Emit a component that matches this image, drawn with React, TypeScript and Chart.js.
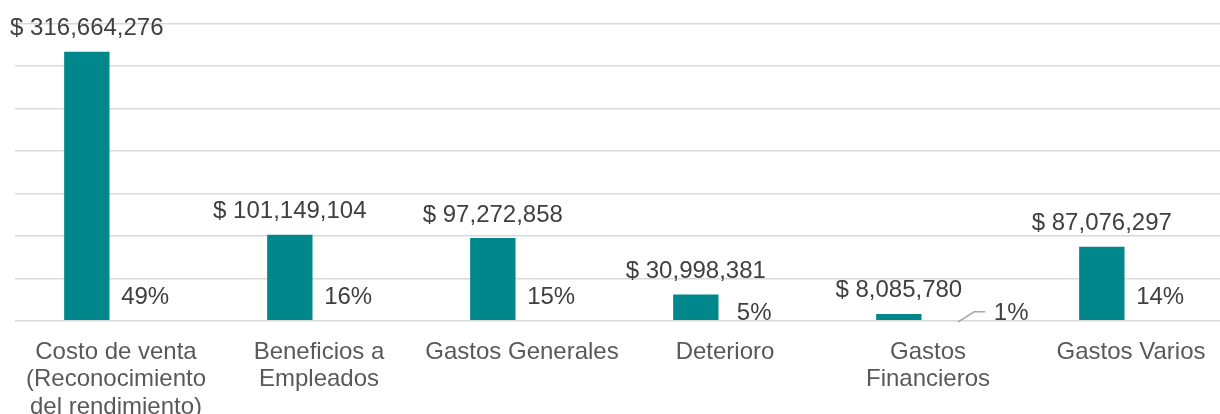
import React, { useEffect, useRef } from "react";
import { Chart, registerables } from "chart.js";

Chart.register(...registerables);

const categories: string[][] = [
  ["Costo de venta", "(Reconocimiento", "del rendimiento)"],
  ["Beneficios a", "Empleados"],
  ["Gastos Generales"],
  ["Deterioro"],
  ["Gastos", "Financieros"],
  ["Gastos Varios"],
];

const amounts: number[] = [316664276, 101149104, 97272858, 30998381, 8085780, 87076297];
const percents: number[] = [49, 16, 15, 5, 1, 14];

const yMax = 350000000;
const yStep = 50000000;

// manual nudges of individual percentage labels (as in the source chart)
const pctNudge = [
  { dx: 0, dy: 0, leader: false },
  { dx: 0, dy: 0, leader: false },
  { dx: 0, dy: 0, leader: false },
  { dx: 0, dy: 16, leader: false },
  { dx: 54, dy: 16, leader: true },
  { dx: 0, dy: 0, leader: false },
];

const FONT = "'Liberation Sans', Arial, sans-serif";

const labelPlugin = {
  id: "valueLabels",
  afterDatasetsDraw(chart: any) {
    const ctx = chart.ctx as CanvasRenderingContext2D;
    ctx.save();
    ctx.font = `24px ${FONT}`;
    ctx.fillStyle = "#404040";
    ctx.textAlign = "center";
    ctx.textBaseline = "alphabetic";
    const m0 = chart.getDatasetMeta(0);
    m0.data.forEach((el: any, i: number) => {
      ctx.fillText("$ " + amounts[i].toLocaleString("en-US"), el.x, el.y - 16.5);
    });
    const m1 = chart.getDatasetMeta(1);
    m1.data.forEach((el: any, i: number) => {
      const n = pctNudge[i];
      const x = el.x + n.dx;
      const y = el.y - 16.5 + n.dy;
      ctx.fillStyle = "#404040";
      ctx.fillText(percents[i] + "%", x, y);
      if (n.leader) {
        ctx.strokeStyle = "#a6a6a6";
        ctx.lineWidth = 1.5;
        ctx.beginPath();
        ctx.moveTo(el.x + 1, el.y + 1);
        ctx.lineTo(el.x + 17, el.y - 9);
        ctx.lineTo(x - 26, el.y - 9);
        ctx.stroke();
      }
    });
    ctx.restore();
  },
};

export default function App() {
  const ref = useRef<HTMLCanvasElement | null>(null);
  useEffect(() => {
    if (!ref.current) return;
    const chart = new Chart(ref.current, {
      type: "bar",
      data: {
        labels: categories as any,
        datasets: [
          {
            data: amounts,
            backgroundColor: "#00878B",
            categoryPercentage: 0.575,
            barPercentage: 0.777,
          },
          {
            data: percents.map((p) => p / 100),
            backgroundColor: "rgba(0,0,0,0)",
            categoryPercentage: 0.575,
            barPercentage: 0.777,
          },
        ],
      },
      options: {
        responsive: false,
        animation: false,
        devicePixelRatio: 1,
        layout: { padding: { left: 14.5, right: 7.5, top: 23.3, bottom: 0 } },
        plugins: { legend: { display: false }, tooltip: { enabled: false } },
        scales: {
          y: {
            min: 0,
            max: yMax,
            ticks: { display: false, stepSize: yStep },
            grid: { color: "#d9d9d9", lineWidth: 1.5, drawTicks: false },
            border: { display: false },
            afterFit: (s: any) => {
              s.width = 0;
            },
          },
          x: {
            grid: { display: false },
            border: { display: false },
            ticks: {
              autoSkip: false,
              maxRotation: 0,
              minRotation: 0,
              padding: 10,
              color: "#595959",
              font: { family: FONT, size: 24, lineHeight: 1.14 },
            },
            afterFit: (s: any) => {
              s.height = 414 - 320.8;
            },
          },
        },
      },
      plugins: [labelPlugin],
    });
    return () => chart.destroy();
  }, []);
  return (
    <div
      style={{
        position: "fixed",
        left: 0,
        top: 0,
        width: 1220,
        height: 414,
        overflow: "hidden",
        background: "#fff",
      }}
    >
      <canvas ref={ref} width={1240} height={414} style={{ display: "block", width: 1240, height: 414 }} />
    </div>
  );
}
